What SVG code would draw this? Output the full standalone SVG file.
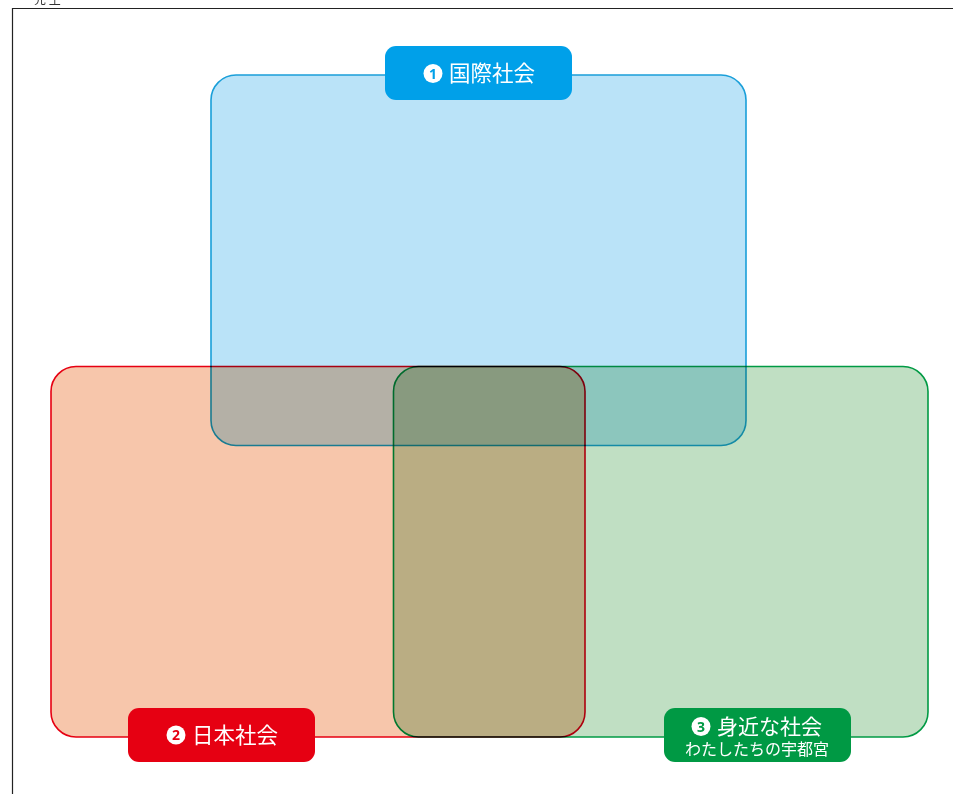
<svg xmlns="http://www.w3.org/2000/svg" width="953" height="794" viewBox="0 0 953 794">
<style>
.area{mix-blend-mode:multiply;stroke-width:1.6}
.lbl{fill:#fff;font-family:"Noto Sans CJK JP","Noto Sans",sans-serif}
.num{font-family:"Noto Sans","Liberation Sans",sans-serif;font-weight:bold;font-size:14px;text-anchor:middle}
</style>
<rect width="953" height="794" fill="#fff"/>
<text x="34" y="4" font-family="Noto Sans CJK JP,sans-serif" font-size="12" fill="#333">先 生</text>
<path d="M12.5 794V8.5H953" fill="none" stroke="#222" stroke-width="1.2"/>
<g id="connectors"/>
<g id="japan" class="area"><rect x="51" y="366.5" width="534" height="370.5" rx="25" fill="#f7c6ab" stroke="#e60012"/></g>
<g id="local" class="area"><rect x="393.5" y="366.5" width="534.5" height="370.5" rx="25" fill="#c0dfc3" stroke="#009a44"/></g>
<g id="intl" class="area"><rect x="211" y="75" width="535" height="370.5" rx="25" fill="#bae3f8" stroke="#1a9fd9"/></g>
<g id="label-intl">
<rect x="385" y="46" width="187" height="54" rx="11" fill="#00a0e9"/>
<circle cx="433" cy="73.5" r="9.5" fill="#fff"/>
<text class="num" x="433" y="78.5" fill="#00a0e9">1</text>
<text class="lbl" x="449" y="81" font-size="21.5">国際社会</text>
</g>
<g id="label-japan">
<rect x="128" y="708" width="187" height="54" rx="11" fill="#e60012"/>
<circle cx="176" cy="735" r="9.5" fill="#fff"/>
<text class="num" x="176" y="740" fill="#e60012">2</text>
<text class="lbl" x="192" y="742.5" font-size="21.5">日本社会</text>
</g>
<g id="label-local">
<rect x="664" y="708" width="187" height="54" rx="11" fill="#009944"/>
<circle cx="701" cy="726.5" r="9.5" fill="#fff"/>
<text class="num" x="701" y="731.5" fill="#009944">3</text>
<text class="lbl" x="717" y="733.5" font-size="21">身近な社会</text>
<text class="lbl" x="685" y="754.5" font-size="16">わたしたちの宇都宮</text>
</g>
</svg>
